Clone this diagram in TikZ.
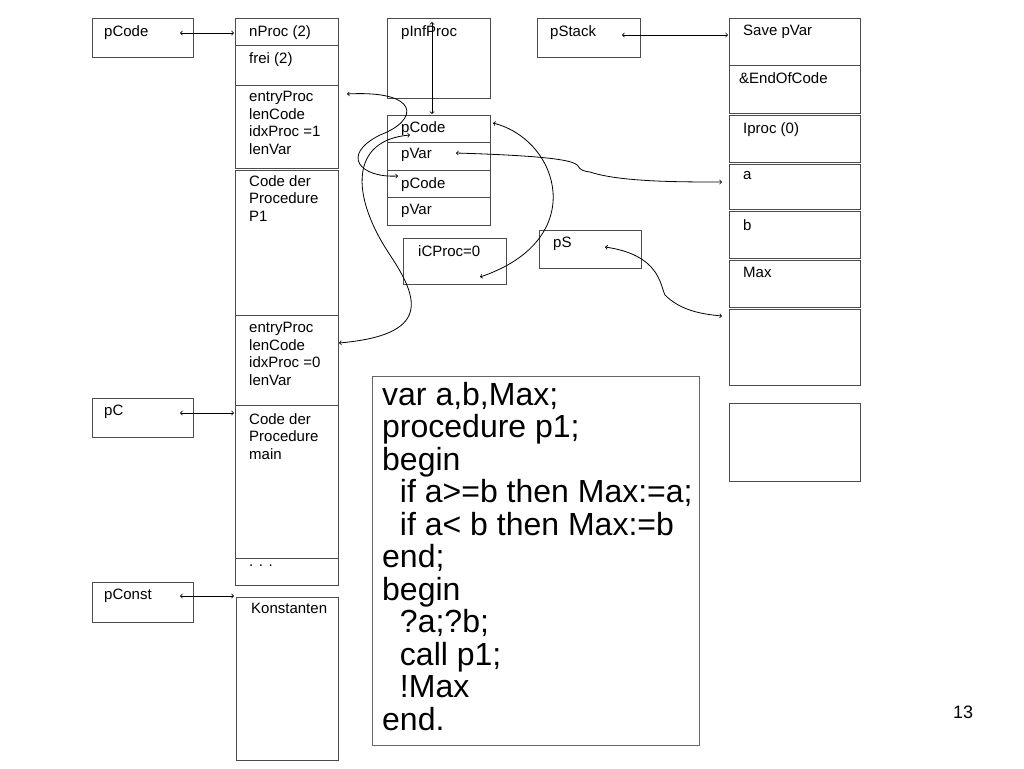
\documentclass[tikz,border=0pt]{standalone}
\usepackage{fontspec}
\setmainfont{Liberation Sans}
\usetikzlibrary{positioning}
\tikzset{
  cell/.style={draw=gray!60!black,inner sep=0pt},
  lab/.style={anchor=north west,font=\fontsize{15}{17.5}\selectfont,align=left,inner sep=0pt},
  link/.style={<->,>=to,thick}
}
\begin{document}
\begin{tikzpicture}[x=1pt,y=-1pt]
  \useasboundingbox (0,0) rectangle (1024,768);
  % left pointers
  \draw[cell] (92,18) rectangle (193,57);   \node[lab] (pcode) at (104,25) {pCode};
  \draw[cell] (92,398) rectangle (193,437); \node[lab] (pc) at (104,405) {pC};
  \draw[cell] (92,582) rectangle (193,622); \node[lab] (pconst) at (104,589) {pConst};
  % code column
  \draw[cell] (235,18) rectangle (338,45);   \node[lab] (nproc) at (249,25) {nProc (2)};
  \draw[cell] (235,45) rectangle (338,85);   \node[lab] at (249,52) {frei (2)};
  \draw[cell] (235,85) rectangle (338,168);  \node[lab] (entry1) at (249,91) {entryProc\\lenCode\\idxProc =1\\lenVar};
  \draw[cell] (235,170) rectangle (338,315); \node[lab] at (249,175) {Code der\\Procedure\\P1};
  \draw[cell] (235,315) rectangle (338,405); \node[lab] (entry0) at (249,322) {entryProc\\lenCode\\idxProc =0\\lenVar};
  \draw[cell] (235,405) rectangle (338,558); \node[lab] (codemain) at (249,413) {Code der\\Procedure\\main};
  \draw[cell] (235,558) rectangle (338,585); \node[lab] at (249,565) {. . .};
  \draw[cell] (236,597) rectangle (338,760); \node[lab] (konst) at (251,603) {Konstanten};
  % proc info
  \draw[cell] (387,18) rectangle (490,98);   \node[lab] at (401,25) {pInfProc};
  \draw[cell] (387,115) rectangle (490,142); \node[lab] at (401,121) {pCode};
  \draw[cell] (387,142) rectangle (490,170); \node[lab] at (401,148) {pVar};
  \draw[cell] (387,170) rectangle (490,197); \node[lab] at (401,177) {pCode};
  \draw[cell] (387,197) rectangle (490,225); \node[lab] at (401,204) {pVar};
  \draw[cell] (403,238) rectangle (506,284); \node[lab] at (418,245) {iCProc=0};
  % stack pointers
  \draw[cell] (537,18) rectangle (640,57);   \node[lab] at (550,25) {pStack};
  \draw[cell] (539,230) rectangle (641,268); \node[lab] at (553,237) {pS};
  % stack
  \draw[cell] (729,18) rectangle (860,65);   \node[lab] at (743,25) {Save pVar};
  \draw[cell] (729,65) rectangle (860,113);  \node[lab] at (739,72) {\&EndOfCode};
  \draw[cell] (729,115) rectangle (860,162); \node[lab] at (743,122) {Iproc (0)};
  \draw[cell] (729,164) rectangle (860,209); \node[lab] at (743,171) {a};
  \draw[cell] (729,211) rectangle (860,258); \node[lab] at (743,219) {b};
  \draw[cell] (729,260) rectangle (860,307); \node[lab] at (743,267) {Max};
  \draw[cell] (729,309) rectangle (860,385);
  \draw[cell] (729,403) rectangle (860,481);
  % source
  \draw[gray!80!black] (372,376) rectangle (699,745);
  \node[anchor=north west,align=left,inner sep=0pt,font=\fontsize{32}{32.5}\selectfont] (src) at (382,382)
    {var a,b,Max;\\procedure p1;\\begin\\\ \ if a>=b then Max:=a;\\\ \ if a< b then Max:=b\\end;\\begin\\\ \ ?a;?b;\\\ \ call p1;\\\ \ !Max\\end.};
  \node[font=\fontsize{18}{20}\selectfont\rmfamily] (page) at (963,712) {13};
  % connectors
  \draw[link] (180,33) -- (234,33);
  \draw[link] (180,413) -- (234,413);
  \draw[link] (180,596) -- (234,596);
  \draw[link] (622,35) -- (728,35);
  \draw[link] (432,22) -- (432,114);
  \draw[link] (456,153) .. controls (620,158) and (560,168) .. (590,172) .. controls (620,182) and (680,182) .. (722,182);
  \draw[link] (493,123) .. controls (560,140) and (590,240) .. (480,277);
  \draw[link] (605,247) .. controls (660,255) and (660,285) .. (665,295) .. controls (680,310) and (700,314) .. (722,316);
  \draw[link] (347,94) .. controls (420,90) and (420,120) .. (380,135) .. controls (340,155) and (360,178) .. (398,176);
  \draw[link] (339,343) .. controls (430,335) and (420,300) .. (390,255) .. controls (350,195) and (350,140) .. (410,135);
\end{tikzpicture}
\end{document}
